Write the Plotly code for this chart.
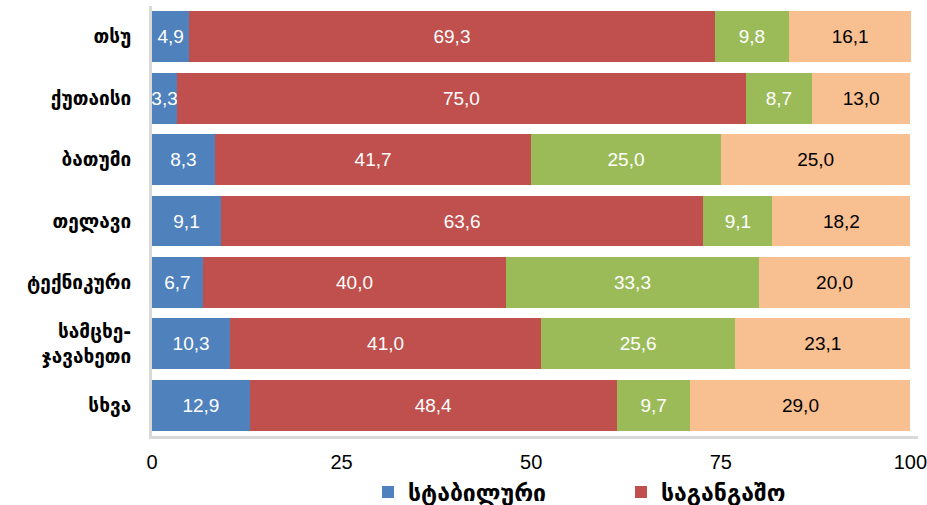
import plotly.graph_objects as go

categories = ["თსუ", "ქუთაისი", "ბათუმი", "თელავი", "ტექნიკური", "სამცხე-<br>ჯავახეთი", "სხვა"]
stable = [4.9, 3.3, 8.3, 9.1, 6.7, 10.3, 12.9]
alarming = [69.3, 75.0, 41.7, 63.6, 40.0, 41.0, 48.4]
series3 = [9.8, 8.7, 25.0, 9.1, 33.3, 25.6, 9.7]
series4 = [16.1, 13.0, 25.0, 18.2, 20.0, 23.1, 29.0]
tick_vals = [0, 25, 50, 75, 100]

series = [
    ("სტაბილური", stable, "#4F81BD", "white", True),
    ("საგანგაშო", alarming, "#C0504D", "white", True),
    ("series3", series3, "#9BBB59", "white", False),
    ("series4", series4, "#F8BF90", "black", False),
]

def fmt(v):
    return f"{v:.1f}".replace(".", ",")

fig = go.Figure()
for name, vals, color, tcolor, show in series:
    fig.add_trace(go.Bar(
        y=categories, x=vals, name=name, orientation="h",
        marker=dict(color=color, line=dict(width=0)),
        text=[fmt(v) for v in vals], textposition="inside", textangle=0,
        insidetextanchor="middle", constraintext="none",
        textfont=dict(family="Liberation Sans, Arial", size=19, color=tcolor),
        showlegend=show, cliponaxis=False,
    ))

fig.update_layout(
    barmode="stack", bargap=0.17,
    width=927, height=505,
    margin=dict(l=152, r=9, t=6, b=69, autoexpand=False),
    paper_bgcolor="white", plot_bgcolor="white",
    font=dict(family="DejaVu Sans", color="black"),
    legend=dict(orientation="h", xref="container", yref="container",
                x=368 / 927, xanchor="left", y=1 - 492 / 505, yanchor="middle",
                font=dict(family="DejaVu Sans", size=23, weight="bold"),
                entrywidth=208, entrywidthmode="pixels",
                traceorder="normal"),
)
fig.update_xaxes(range=[0, 101], tickvals=tick_vals, ticktext=[str(t) for t in tick_vals],
                 showgrid=False, zeroline=False, showline=True, linecolor="#D9D9D9",
                 linewidth=3, ticks="", automargin=False, ticklabeloverflow="allow",
                 tickfont=dict(family="Liberation Sans, Arial", size=20),
                 ticklabelstandoff=6)
fig.update_yaxes(autorange="reversed", showgrid=False, zeroline=False, showline=True,
                 linecolor="#D9D9D9", linewidth=3, ticks="", automargin=False,
                 tickfont=dict(family="DejaVu Sans", size=19, weight="bold"), ticklabelstandoff=14)

fig.write_html("out.html", config={"displayModeBar": False},
               post_script="document.body.style.margin='0';")
